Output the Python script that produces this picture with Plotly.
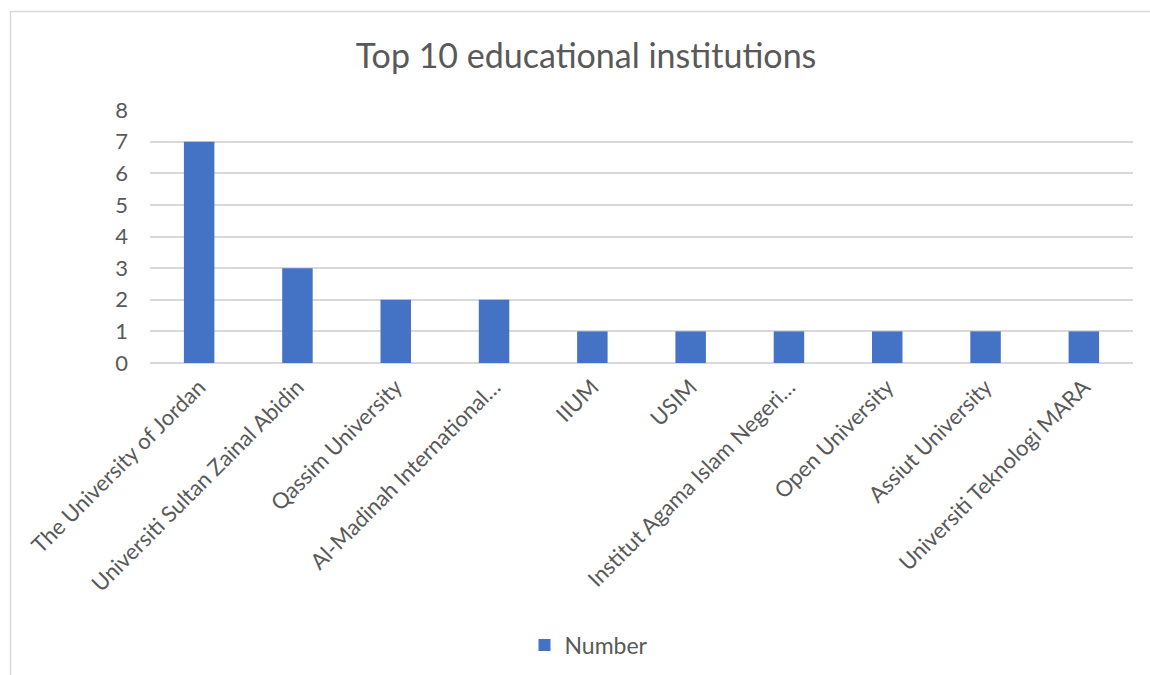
import plotly.graph_objects as go

categories = [
    "The University of Jordan",
    "Universiti Sultan Zainal Abidin",
    "Qassim University",
    "Al-Madinah International…",
    "IIUM",
    "USIM",
    "Institut Agama Islam Negeri…",
    "Open University",
    "Assiut University",
    "Universiti Teknologi MARA",
]
values = [7, 3, 2, 2, 1, 1, 1, 1, 1, 1]
series_name = "Number"
title_text = "Top 10 educational institutions"

FONT = "Lato, 'Open Sans', sans-serif"
TXT = "#595959"
GRID = "#d9d9d9"

W, H = 1150, 675
L, R, T, B = 150, 17, 110, 312
pw, ph = W - L - R, H - T - B

def px_x(x):
    return (x - L) / pw

def px_y(y):
    return (H - B - y) / ph

fig = go.Figure()
fig.add_trace(go.Bar(
    x=categories, y=values, name=series_name,
    marker=dict(color="#4472c4", line=dict(width=0)),
))

fig.update_layout(
    width=W, height=H,
    margin=dict(l=L, r=R, t=T, b=B, autoexpand=False),
    paper_bgcolor="white", plot_bgcolor="white",
    font=dict(family=FONT, color=TXT, size=22),
    title=dict(text=title_text, x=586 / W, xanchor="center",
               y=1 - 56 / H, yanchor="middle",
               font=dict(family=FONT, size=34, color=TXT)),
    bargap=0.69,
    showlegend=True,
    legend=dict(orientation="h", x=px_x(589), xanchor="center",
                y=px_y(645), yanchor="middle",
                font=dict(size=23, color=TXT), itemwidth=30),
    xaxis=dict(tickangle=-45, showgrid=False, showline=False, ticks="",
               tickfont=dict(size=22, color=TXT), ticklabelstandoff=6),
    yaxis=dict(range=[0, 8], dtick=1, showgrid=True, gridcolor=GRID,
               gridwidth=1.5, zeroline=True, zerolinecolor=GRID,
               zerolinewidth=1.5, showline=False, ticks="",
               tickfont=dict(size=22, color=TXT), ticklabelstandoff=21),
    shapes=[dict(type="rect", xref="paper", yref="paper",
                 x0=px_x(10.5), x1=px_x(1160), y0=px_y(700), y1=px_y(11.5),
                 line=dict(color=GRID, width=1.5), fillcolor="rgba(0,0,0,0)",
                 layer="below")],
)

fig.write_html("out.html", config={"displayModeBar": False},
               post_script="document.body.style.margin='0';")
